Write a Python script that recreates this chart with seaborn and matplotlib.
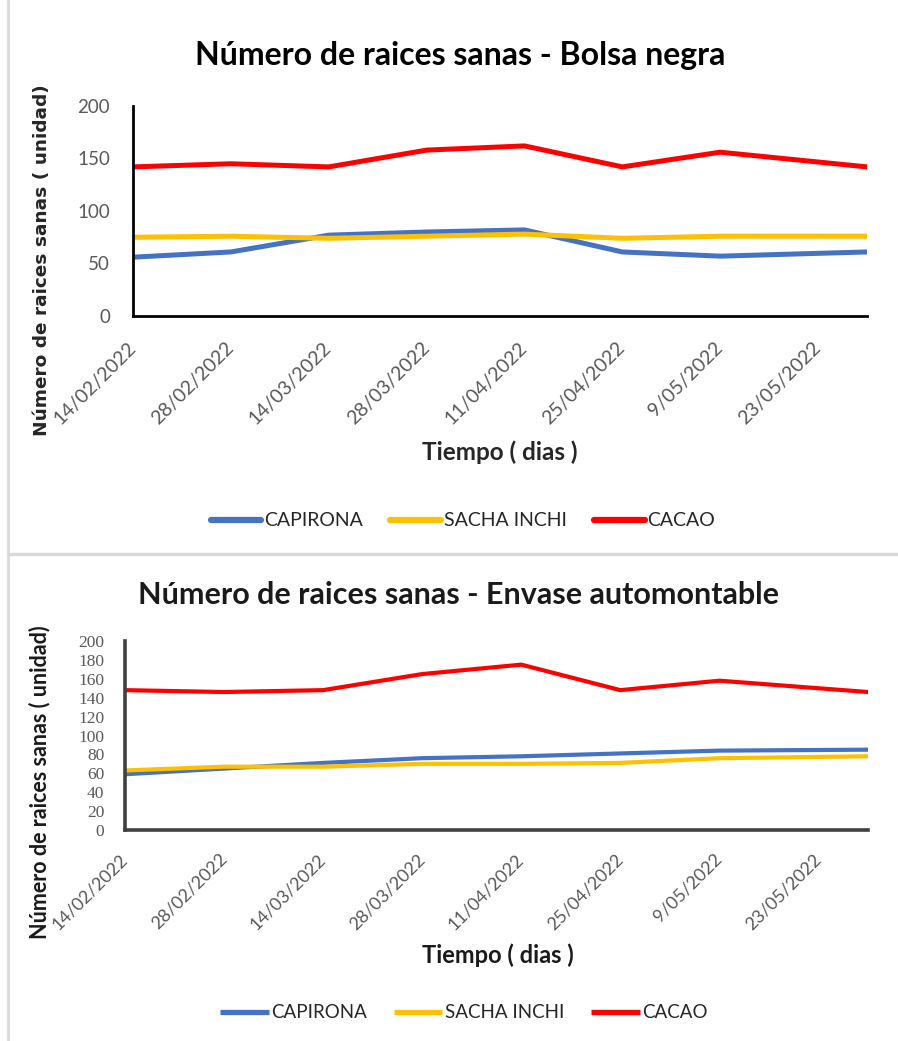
import numpy as np
import pandas as pd
import matplotlib
matplotlib.use("Agg")
import matplotlib.pyplot as plt
from matplotlib.lines import Line2D
from matplotlib.transforms import ScaledTranslation
import seaborn as sns

# ---------------- data ----------------
dates = ["2022-02-14", "2022-02-28", "2022-03-14", "2022-03-28",
         "2022-04-11", "2022-04-25", "2022-05-09", "2022-05-30"]
series_names = ["CAPIRONA", "SACHA INCHI", "CACAO"]
series_colors = ["#4472C4", "#FFC000", "#FF0000"]

bolsa_capirona = [56, 61, 77, 80, 82, 61, 57, 61]
bolsa_sacha = [75, 76, 74, 76, 78, 74, 76, 76]
bolsa_cacao = [142, 145, 142, 158, 162, 142, 156, 142]

env_capirona = [59, 65, 71, 76, 78, 81, 84, 85]
env_sacha = [63, 67, 67, 70, 70, 71, 76, 78]
env_cacao = [148, 146, 148, 165, 175, 148, 158, 146]

tick_dates = ["2022-02-14", "2022-02-28", "2022-03-14", "2022-03-28",
              "2022-04-11", "2022-04-25", "2022-05-09", "2022-05-23"]
tick_labels = ["14/02/2022", "28/02/2022", "14/03/2022", "28/03/2022",
               "11/04/2022", "25/04/2022", "9/05/2022", "23/05/2022"]

title_top = "Número de raices sanas - Bolsa negra"
title_bottom = "Número de raices sanas - Envase automontable"
ylabel = "Número de raices sanas ( unidad)"
xlabel = "Tiempo ( dias )"


def long_df(cap, sac, cac):
    d = pd.to_datetime(dates)
    frames = []
    for name, vals in zip(series_names, [cap, sac, cac]):
        frames.append(pd.DataFrame({"fecha": d, "valor": vals, "serie": name}))
    return pd.concat(frames, ignore_index=True)


df_top = long_df(bolsa_capirona, bolsa_sacha, bolsa_cacao)
df_bot = long_df(env_capirona, env_sacha, env_cacao)
palette = dict(zip(series_names, series_colors))

sns.set_theme(style="white")
plt.rcParams["font.family"] = ["Lato", "DejaVu Sans"]

W, H = 898, 1041
fig = plt.figure(figsize=(W / 100, H / 100), dpi=100)


def fx(px):
    return px / W


def fy(py):
    return 1 - py / H


ax1 = fig.add_axes([fx(133), fy(316), fx(867 - 133), (316 - 106) / H])
ax2 = fig.add_axes([fx(125), fy(830), fx(868 - 125), (830 - 641) / H])

sns.lineplot(data=df_top, x="fecha", y="valor", hue="serie", palette=palette,
             hue_order=series_names, linewidth=3.6, ax=ax1, legend=False)
sns.lineplot(data=df_bot, x="fecha", y="valor", hue="serie", palette=palette,
             hue_order=series_names, linewidth=3.0, ax=ax2, legend=False)

tick_pos = pd.to_datetime(tick_dates)
x_end = pd.to_datetime(dates[-1])

for ax, yticks, spine_c, spine_w, xpad, ypad, ytick_font, ytick_size, xtick_size in [
    (ax1, np.arange(0, 201, 50), "#000000", 2.0, 21, 16.5, "Lato", 13.5, 14),
    (ax2, np.arange(0, 201, 20), "#404040", 2.6, 19, 15, "Liberation Serif", 12.5, 13),
]:
    ax.set_xlim(tick_pos[0], x_end)
    ax.set_ylim(0, 200)
    ax.set_yticks(yticks)
    ax.set_yticklabels([str(v) for v in yticks], fontsize=ytick_size,
                       color="#595959", family=ytick_font)
    ax.set_xticks(tick_pos)
    ax.set_xticklabels(tick_labels, rotation=45, ha="right", va="center",
                       rotation_mode="anchor", fontsize=xtick_size, color="#595959")
    off = ScaledTranslation(5 / 100, 0, fig.dpi_scale_trans)
    for lab in ax.get_xticklabels():
        lab.set_transform(lab.get_transform() + off)
    ax.tick_params(axis="x", length=0, pad=xpad)
    ax.tick_params(axis="y", length=0, pad=ypad)
    ax.set_xlabel("")
    ax.set_ylabel("")
    for s in ["top", "right"]:
        ax.spines[s].set_visible(False)
    for s in ["left", "bottom"]:
        ax.spines[s].set_color(spine_c)
        ax.spines[s].set_linewidth(spine_w)
    ax.grid(False)
    ax.set_facecolor("none")

# titles
fig.text(fx(460), fy(55), title_top, ha="center", va="center",
         fontsize=23, fontweight="bold", color="#000000")
fig.text(fx(458), fy(595), title_bottom, ha="center", va="center",
         fontsize=22, fontweight="bold", color="#1a1a1a")

# y labels
fig.text(fx(42), fy(260), ylabel, rotation=90, ha="center", va="center",
         fontsize=13.3, fontweight="bold", family="DejaVu Sans")
fig.text(fx(40), fy(782), ylabel, rotation=90, ha="center", va="center",
         fontsize=15.5, fontweight="bold", color="#1a1a1a")

# x labels
fig.text(fx(500), fy(452), xlabel, ha="center", va="center",
         fontsize=17.5, fontweight="bold")
fig.text(fx(498), fy(955), xlabel, ha="center", va="center",
         fontsize=17, fontweight="bold", color="#1a1a1a")

# legends
handles = [Line2D([0], [0], color=c, lw=4.5, solid_capstyle="round") for c in series_colors]
fig.legend(handles, series_names, loc="center", bbox_to_anchor=(fx(463), fy(521)),
           ncol=3, frameon=False, fontsize=14, handlelength=2.6, handletextpad=0.15,
           columnspacing=1.4)
handles2 = [Line2D([0], [0], color=c, lw=3.8, solid_capstyle="butt") for c in series_colors]
fig.legend(handles2, series_names, loc="center", bbox_to_anchor=(fx(464), fy(1013)),
           ncol=3, frameon=False, fontsize=13.5, handlelength=2.6, handletextpad=0.15,
           columnspacing=1.4)

# panel borders
fig.add_artist(Line2D([fx(8), fx(8)], [0, 1], color="#d9d9d9", lw=2,
                      transform=fig.transFigure))
fig.add_artist(Line2D([fx(8), 1], [fy(554), fy(554)], color="#d9d9d9", lw=2.5,
                      transform=fig.transFigure))

fig.savefig("out.png", dpi=100, facecolor="white")
